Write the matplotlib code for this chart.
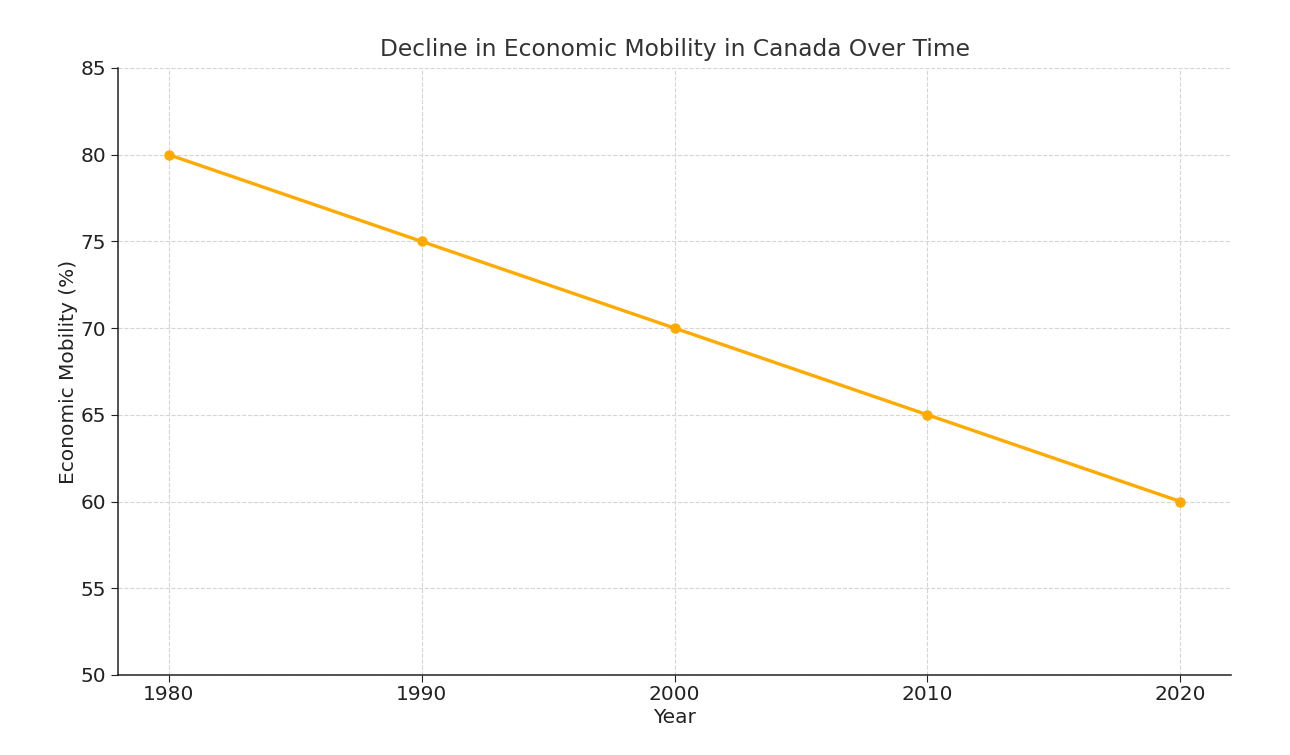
import matplotlib
matplotlib.use("Agg")
import matplotlib.pyplot as plt

years = [1980, 1990, 2000, 2010, 2020]
mobility = [80, 75, 70, 65, 60]

fig = plt.figure(figsize=(12.9, 7.55), dpi=100)
ax = fig.add_axes([0.0915, 0.106, 0.8628, 0.804])

ax.plot(years, mobility, color='#FFAA00', marker='o', markersize=6.5, linewidth=2.4)

ax.set_title("Decline in Economic Mobility in Canada Over Time", fontsize=16.8,
             color='#333333', pad=8.5)
ax.set_xlabel("Year", fontsize=14.5, color='#222222', labelpad=3)
ax.set_ylabel("Economic Mobility (%)", fontsize=14.5, color='#222222', labelpad=2)
ax.set_ylim(50, 85)
ax.set_xticks(years)
ax.tick_params(labelsize=14.5, colors='#222222', length=5)
ax.tick_params(axis='x', pad=2)

ax.grid(True, linestyle='--', color='#d5d5d5', linewidth=0.8)
ax.spines['top'].set_visible(False)
ax.spines['right'].set_visible(False)
for s in ['left', 'bottom']:
    ax.spines[s].set_color('#222222')
    ax.spines[s].set_linewidth(1.1)

fig.savefig("out.png", dpi=100)
